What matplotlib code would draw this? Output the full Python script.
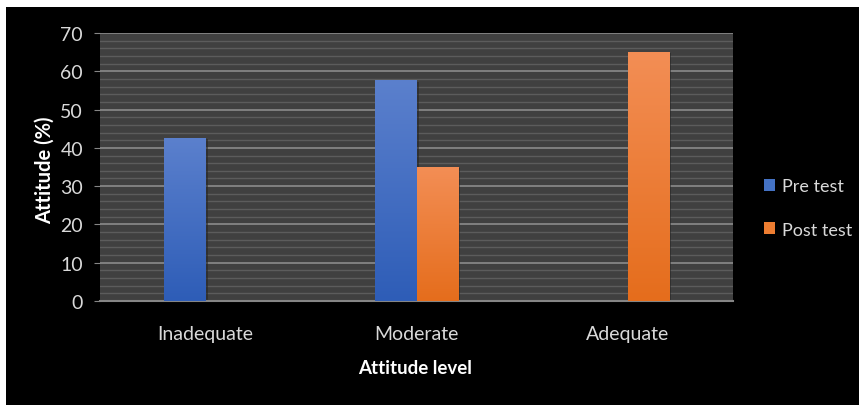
import numpy as np
import matplotlib.pyplot as plt
from matplotlib.colors import LinearSegmentedColormap
from matplotlib.patches import Rectangle, Patch

plt.rcParams['font.family'] = ['Lato', 'DejaVu Sans']

# attitude level percentages before and after the test
levels = ['Inadequate', 'Moderate', 'Adequate']
pre_test = [42.5, 57.5, 0]
post_test = [0, 35, 65]

fig = plt.figure(figsize=(8.59, 4.06), dpi=100, facecolor='white')
# black card behind the chart
fig.patches.append(Rectangle((6 / 859, 0), 1, 1 - 8 / 406, transform=fig.transFigure,
                             facecolor='black', edgecolor='none', zorder=-5))

ax = fig.add_axes([100 / 859, 1 - 302 / 406, 633 / 859, 268 / 406])
ax.set_facecolor('#404040')

x = np.arange(len(levels))
w = 0.195
bars_pre = ax.bar(x - w / 2, pre_test, w, color='#4472C4', zorder=3)
bars_post = ax.bar(x + w / 2, post_test, w, color='#ED7D31', zorder=3)

# vertical gradient fill on every bar
blue_cmap = LinearSegmentedColormap.from_list('blue', ['#2E5DB7', '#5B80CD'])
orange_cmap = LinearSegmentedColormap.from_list('orange', ['#E56D1C', '#F38E55'])
grad = np.linspace(0, 1, 256).reshape(-1, 1)
for bars, cmap in [(bars_pre, blue_cmap), (bars_post, orange_cmap)]:
    for b in bars:
        h = b.get_height()
        if h <= 0:
            continue
        x0 = b.get_x()
        # soft drop shadow to the right
        ax.add_patch(Rectangle((x0 + 0.01, 0), b.get_width(), h - 0.3,
                               facecolor='#262626', edgecolor='none', alpha=0.6, zorder=2.5))
        ax.imshow(grad, extent=[x0, x0 + b.get_width(), 0, h], origin='lower',
                  aspect='auto', cmap=cmap, zorder=3.5)

ax.set_xlim(-0.5, 2.5)
ax.set_ylim(0, 70)
ax.set_xticks(x)
ax.set_xticklabels(levels)
ax.set_yticks(range(0, 71, 10))
ax.set_yticks(range(0, 71, 2), minor=True)

ax.grid(which='major', axis='y', color='#858585', lw=1.3, zorder=1)
ax.grid(which='minor', axis='y', color='#5c5c5c', lw=1.0, zorder=0.9)
ax.set_axisbelow(True)

for side in ['top', 'right', 'left']:
    ax.spines[side].set_visible(False)
ax.spines['bottom'].set_color('#858585')
ax.spines['bottom'].set_linewidth(1.5)

ax.tick_params(axis='y', which='major', length=4.3, color='#858585', pad=8,
               labelsize=14, labelcolor='#d9d9d9')
ax.tick_params(axis='y', which='minor', length=0)
ax.tick_params(axis='x', length=0, pad=17, labelsize=14, labelcolor='#d9d9d9')

fig.text(415 / 859, 1 - 369 / 406, 'Attitude level', color='white', fontsize=13.5,
         fontweight='bold', ha='center', va='center')
fig.text(45 / 859, 1 - 170 / 406, 'Attitude (%)', color='white', fontsize=14.5,
         fontweight='bold', ha='center', va='center', rotation=90)

handles = [Patch(facecolor='#4472C4', label='Pre test'),
           Patch(facecolor='#ED7D31', label='Post test')]
fig.legend(handles=handles, loc='center left', bbox_to_anchor=(748 / 859, 1 - 209 / 406),
           frameon=False, labelcolor='#d9d9d9', fontsize=13, handlelength=0.6,
           handleheight=0.6, handletextpad=0.4, labelspacing=1.5)

fig.savefig('out.png', dpi=100, facecolor=fig.get_facecolor())
